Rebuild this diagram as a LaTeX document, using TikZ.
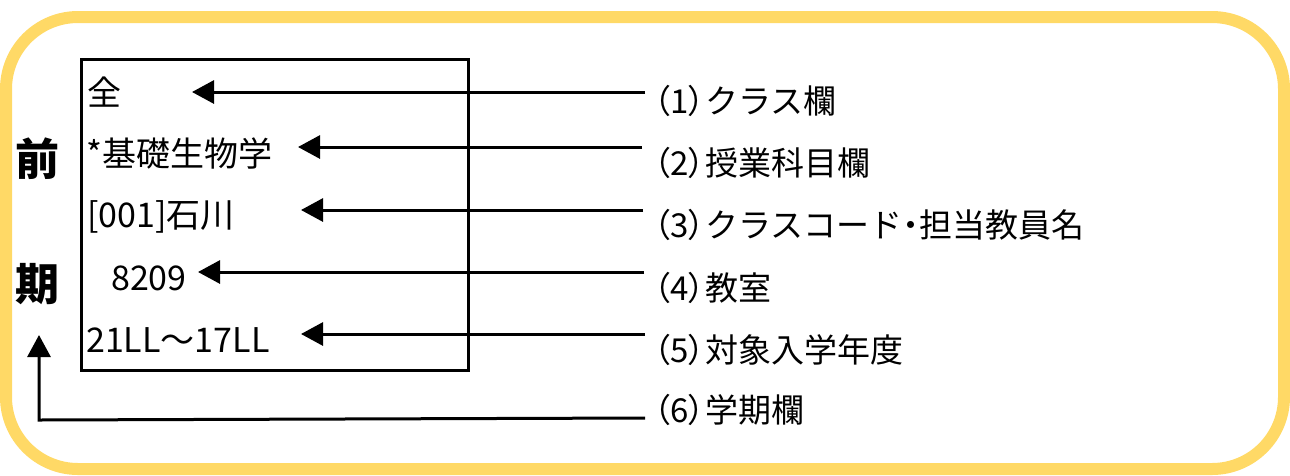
\documentclass[tikz,border=0pt]{standalone}
\usepackage{xcolor}
\usepackage{fontspec}
\usepackage{tikz}
\usetikzlibrary{arrows.meta}
\newfontfamily\jp[RawFeature=+palt]{Noto Sans CJK JP}
\newfontfamily\jpfull{Noto Sans CJK JP}
\definecolor{frameyellow}{HTML}{FFD966}
\newcommand{\tag}[1]{{\jp （#1）}}
\tikzset{
  entry/.style={anchor=west, inner sep=0pt, font=\jpfull\fontsize{34}{38}\selectfont},
  caption/.style={anchor=west, inner sep=0pt, font=\jpfull\fontsize{33}{37}\selectfont},
  term/.style={anchor=center, inner sep=0pt, font=\jpfull\bfseries\fontsize{44}{48}\selectfont},
  pointer/.style={-{Triangle[length=22pt,width=23pt]}, line width=3pt, draw=black}
}
\begin{document}
\begin{tikzpicture}[x=1pt, y=-1pt]
    \useasboundingbox (0,0) rectangle (1290,475);
    \draw [line width=12pt, draw=frameyellow, rounded corners=72pt] (6,17) rectangle (1284,469);
    \node (card) [rectangle, line width=3pt, draw=black, minimum width=387pt, minimum height=311pt, anchor=north west] at (80,58) {};
    \node (zen) [entry] at (87,92) {全};
    \node (subject) [entry] at (86,154) {*基礎生物学};
    \node (code) [entry] at (87,217) {[001]石川};
    \node (room) [entry] at (111,278) {8209};
    \node (years) [entry] at (86,340) {21LL～17LL};
    \node (zen2) [term] at (37,159) {前};
    \node (ki) [term] at (37,284) {期};
    \node (c1) [caption] at (654,101) {\tag{1}クラス欄};
    \node (c2) [caption] at (654,163) {\tag{2}授業科目欄};
    \node (c3) [caption] at (654,225) {\tag{3}クラスコード{\jp ・}担当教員名};
    \node (c4) [caption] at (654,288) {\tag{4}教室};
    \node (c5) [caption] at (654,350) {\tag{5}対象入学年度};
    \node (c6) [caption] at (654,410) {\tag{6}学期欄};
    \coordinate (e1) at (645,92);
    \coordinate (e2) at (642,147);
    \coordinate (e3) at (643,210);
    \coordinate (e4) at (644,272);
    \coordinate (e5) at (645,334);
    \coordinate (e6) at (645,418);
    \coordinate (t1) at (192,92);
    \coordinate (t2) at (298,147);
    \coordinate (t3) at (301,210);
    \coordinate (t4) at (198,272);
    \coordinate (t5) at (301,334);
    \coordinate (t6) at (39,335);
    \draw [pointer] (e1) -- (t1);
    \draw [pointer] (e2) -- (t2);
    \draw [pointer] (e3) -- (t3);
    \draw [pointer] (e4) -- (t4);
    \draw [pointer] (e5) -- (t5);
    \draw [pointer] (e6) -- (39,420) -- (t6);
  \end{tikzpicture}
\end{document}
